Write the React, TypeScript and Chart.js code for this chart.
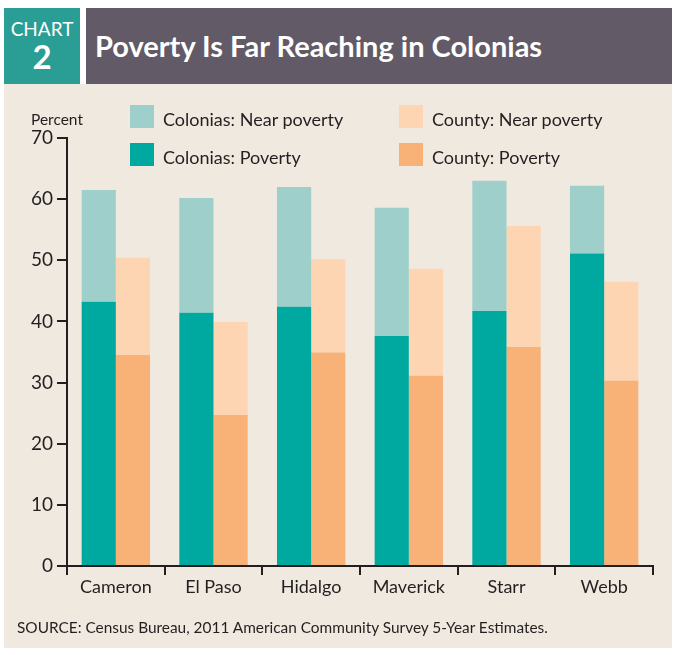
import React, { useEffect, useRef } from "react";
import { Chart, registerables } from "chart.js";

Chart.register(...registerables);

const categories = ["Cameron", "El Paso", "Hidalgo", "Maverick", "Starr", "Webb"];
const coloniasPoverty = [43.2, 41.4, 42.4, 37.6, 41.7, 51.1];
const coloniasNearPoverty = [18.3, 18.8, 19.6, 21.0, 21.3, 11.1];
const countyPoverty = [34.5, 24.7, 34.9, 31.1, 35.8, 30.3];
const countyNearPoverty = [15.9, 15.2, 15.3, 17.5, 19.8, 16.2];
const yTicks = [0, 10, 20, 30, 40, 50, 60, 70];

const C_TEAL = "#00a9a0";
const C_TEAL_LIGHT = "#9ecfca";
const C_ORANGE = "#f8b176";
const C_ORANGE_LIGHT = "#fdd5b2";
const BG = "#f0e9e0";
const INK = "#231f20";
const FONT = "Lato, 'Open Sans', sans-serif";

export default function App() {
  const ref = useRef<HTMLCanvasElement>(null);
  useEffect(() => {
    document.body.style.margin = "0";
    const chart = new Chart(ref.current!, {
      type: "bar",
      data: {
        labels: categories,
        datasets: [
          { label: "Colonias: Poverty", data: coloniasPoverty, backgroundColor: C_TEAL, stack: "colonias" },
          { label: "County: Poverty", data: countyPoverty, backgroundColor: C_ORANGE, stack: "county" },
          { label: "Colonias: Near poverty", data: coloniasNearPoverty, backgroundColor: C_TEAL_LIGHT, stack: "colonias" },
          { label: "County: Near poverty", data: countyNearPoverty, backgroundColor: C_ORANGE_LIGHT, stack: "county" },
        ],
      },
      options: {
        animation: false,
        responsive: false,
        maintainAspectRatio: false,
        layout: { padding: { left: 0, right: 25, top: 138, bottom: 49 } },
        datasets: { bar: { categoryPercentage: 0.7, barPercentage: 1, borderWidth: 0 } },
        plugins: { legend: { display: false }, tooltip: { enabled: false } },
        scales: {
          x: {
            stacked: true,
            afterFit: (s: any) => { s.height = 40; },
            grid: { offset: true, drawOnChartArea: false, drawTicks: true, tickLength: 9, color: INK, lineWidth: 2 },
            border: { display: true, color: INK, width: 2 },
            ticks: { color: INK, font: { family: FONT, size: 18 }, padding: 1 },
          },
          y: {
            stacked: true,
            min: 0,
            max: 70,
            afterFit: (s: any) => { s.width = 67; },
            afterBuildTicks: (s: any) => { s.ticks = yTicks.map((v) => ({ value: v })); },
            grid: { drawOnChartArea: false, drawTicks: true, tickLength: 10, color: INK, lineWidth: 2 },
            border: { display: true, color: INK, width: 2 },
            ticks: { color: INK, font: { family: FONT, size: 19 }, padding: 4 },
          },
        },
      },
    });
    return () => chart.destroy();
  }, []);

  const legendItem = (x: number, y: number, color: string, text: string) => (
    <div style={{ position: "absolute", left: x, top: y, display: "flex", alignItems: "center" }}>
      <div style={{ width: 24, height: 23, background: color }} />
      <span style={{ marginLeft: 9, marginTop: 6, fontFamily: FONT, fontSize: 18, color: INK }}>{text}</span>
    </div>
  );

  return (
    <div style={{ position: "absolute", left: 0, top: 0, width: 678, height: 655, background: "#fff", overflow: "hidden" }}>
      <div style={{ position: "absolute", left: 4, top: 84, width: 668, height: 564, background: BG }} />
      <div style={{ position: "absolute", left: 4, top: 8, width: 76, height: 76, background: "#2a9d95", color: "#fff", fontFamily: FONT, textAlign: "center" }}>
        <div style={{ fontSize: 19, marginTop: 11, lineHeight: "20px" }}>CHART</div>
        <div style={{ fontSize: 33, fontWeight: 700, lineHeight: "34px" }}>2</div>
      </div>
      <div style={{ position: "absolute", left: 86, top: 8, width: 586, height: 76, background: "#625a66", color: "#fff", fontFamily: FONT, fontWeight: 700, fontSize: 29, lineHeight: "76px", paddingLeft: 9, boxSizing: "border-box" }}>
        Poverty Is Far Reaching in Colonias
      </div>
      <canvas ref={ref} width={678} height={655} style={{ position: "absolute", left: 0, top: 0 }} />
      <div style={{ position: "absolute", left: 31, top: 110, fontFamily: FONT, fontSize: 15.5, color: INK }}>Percent</div>
      {legendItem(130, 102, C_TEAL_LIGHT, "Colonias: Near poverty")}
      {legendItem(130, 140, C_TEAL, "Colonias: Poverty")}
      {legendItem(399, 102, C_ORANGE_LIGHT, "County: Near poverty")}
      {legendItem(399, 140, C_ORANGE, "County: Poverty")}
      <div style={{ position: "absolute", left: 17, top: 618, fontFamily: FONT, fontSize: 15.4, color: INK }}>
        SOURCE: Census Bureau, 2011 American Community Survey 5-Year Estimates.
      </div>
    </div>
  );
}
